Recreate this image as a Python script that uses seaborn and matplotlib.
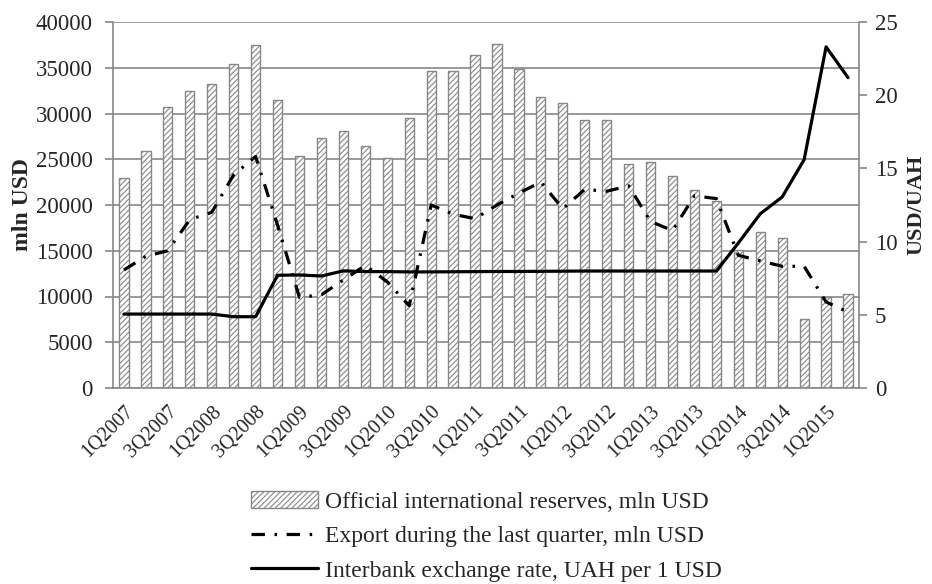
import matplotlib
matplotlib.use("Agg")
import matplotlib.pyplot as plt
import numpy as np
import pandas as pd
import seaborn as sns
from matplotlib.lines import Line2D
from matplotlib.patches import Patch

# quarterly data, 1Q2007 - 2Q2015
quarters = ["1Q2007", "2Q2007", "3Q2007", "4Q2007",
            "1Q2008", "2Q2008", "3Q2008", "4Q2008",
            "1Q2009", "2Q2009", "3Q2009", "4Q2009",
            "1Q2010", "2Q2010", "3Q2010", "4Q2010",
            "1Q2011", "2Q2011", "3Q2011", "4Q2011",
            "1Q2012", "2Q2012", "3Q2012", "4Q2012",
            "1Q2013", "2Q2013", "3Q2013", "4Q2013",
            "1Q2014", "2Q2014", "3Q2014", "4Q2014",
            "1Q2015", "2Q2015"]
reserves = [23000, 25900, 30700, 32500, 33200, 35400, 37500, 31500,
            25400, 27300, 28100, 26500, 25100, 29500, 34600, 34600,
            36400, 37600, 34900, 31800, 31100, 29300, 29300, 24500,
            24700, 23200, 21600, 20400, 15100, 17100, 16400, 7500,
            10000, 10300]
exports = [12900, 14400, 15000, 18400, 19200, 23300, 25300, 17800,
           9900, 10200, 11800, 13400, 11600, 9000, 20000, 19000,
           18500, 20000, 21300, 22500, 19600, 21700, 21500, 22100,
           18200, 17200, 21000, 20700, 14500, 13900, 13300, 13300,
           9400, 8300]
rate = [5.05, 5.05, 5.05, 5.05, 5.05, 4.87, 4.87, 7.70,
        7.72, 7.65, 8.00, 7.95, 7.95, 7.93, 7.93, 7.94,
        7.95, 7.96, 7.96, 7.97, 7.98, 7.99, 7.99, 7.99,
        7.99, 7.99, 7.99, 7.99, 9.90, 11.90, 13.05, 15.60,
        23.30, 21.20]

lbl_res = "Official international reserves, mln USD"
lbl_exp = "Export during the last quarter, mln USD"
lbl_rate = "Interbank exchange rate, UAH per 1 USD"

sns.set_style("white")
plt.rcParams["font.family"] = ["Liberation Serif", "DejaVu Serif"]
plt.rcParams["hatch.linewidth"] = 0.8

GRAY = "#878787"
EXP_STYLE = (0, (4.2, 3, 0.8, 3))
df = pd.DataFrame({"quarter": quarters, "reserves": reserves,
                   "exports": exports, "rate": rate})
df["pos"] = np.arange(len(df))

fig = plt.figure(figsize=(9.32, 5.84), dpi=100)
ax = fig.add_axes([113 / 932, 1 - 388 / 584, (859 - 113) / 932, (388 - 22) / 584])

ax.set_axisbelow(True)
ax.yaxis.grid(True, color=GRAY, lw=1.2)

# reserves as hatched bars, export as dash-dot line on the left axis
sns.barplot(data=df, x="quarter", y="reserves", color="white", width=0.42,
            edgecolor=GRAY, linewidth=1.0, hatch="//////", ax=ax, zorder=2)
sns.lineplot(data=df, x="pos", y="exports", color="black", lw=2.3,
             linestyle=EXP_STYLE, ax=ax, zorder=3)

ax.set_ylim(0, 40000)
ax.set_yticks(np.arange(0, 40001, 5000))
ax.set_xlim(-0.5, len(df) - 0.5)
ax.set_xticks(np.arange(0, len(df), 2))
ax.set_xticklabels(quarters[::2], rotation=45, ha="right", rotation_mode="anchor")
ax.set_xticks(np.arange(-0.5, len(df), 1), minor=True)
ax.tick_params(axis="x", which="major", length=0, pad=10, labelsize=14.5)
ax.tick_params(axis="x", which="minor", length=5, color=GRAY, width=1.2, direction="out")
ax.tick_params(axis="y", length=5.5, color=GRAY, width=1.2, direction="out",
               left=True, labelsize=16.5, pad=9)
ax.set_xlabel("")
ax.set_ylabel("mln USD", fontsize=17, fontweight="bold", labelpad=2)
for s in ["top", "right"]:
    ax.spines[s].set_visible(False)
for s in ["left", "bottom"]:
    ax.spines[s].set_color(GRAY)
    ax.spines[s].set_linewidth(1.2)

# exchange rate on the secondary axis
ax2 = ax.twinx()
sns.lineplot(data=df, x="pos", y="rate", color="black", lw=2.3, ax=ax2)
ax2.set_ylim(0, 25)
ax2.set_yticks(np.arange(0, 26, 5))
ax2.tick_params(axis="y", length=5.5, color=GRAY, width=1.2, direction="out",
                right=True, labelsize=16.5, pad=6)
ax2.set_ylabel("USD/UAH", fontsize=16, fontweight="bold", labelpad=6)
for s in ["top", "left", "bottom"]:
    ax2.spines[s].set_visible(False)
ax2.spines["right"].set_color(GRAY)
ax2.spines["right"].set_linewidth(1.2)
ax2.set_xlim(-0.5, len(df) - 0.5)

handles = [
    Patch(facecolor="white", edgecolor=GRAY, hatch="//////", lw=1.0),
    Line2D([], [], color="black", lw=2.3, linestyle=EXP_STYLE),
    Line2D([], [], color="black", lw=2.3),
]
fig.legend(handles, [lbl_res, lbl_exp, lbl_rate], loc="upper left",
           bbox_to_anchor=(251 / 932, 1 - 491 / 584), frameon=False,
           fontsize=17, handlelength=2.85, handletextpad=0.3,
           labelspacing=0.55, borderpad=0, borderaxespad=0)

fig.savefig("out.png", dpi=100)
plt.close(fig)
